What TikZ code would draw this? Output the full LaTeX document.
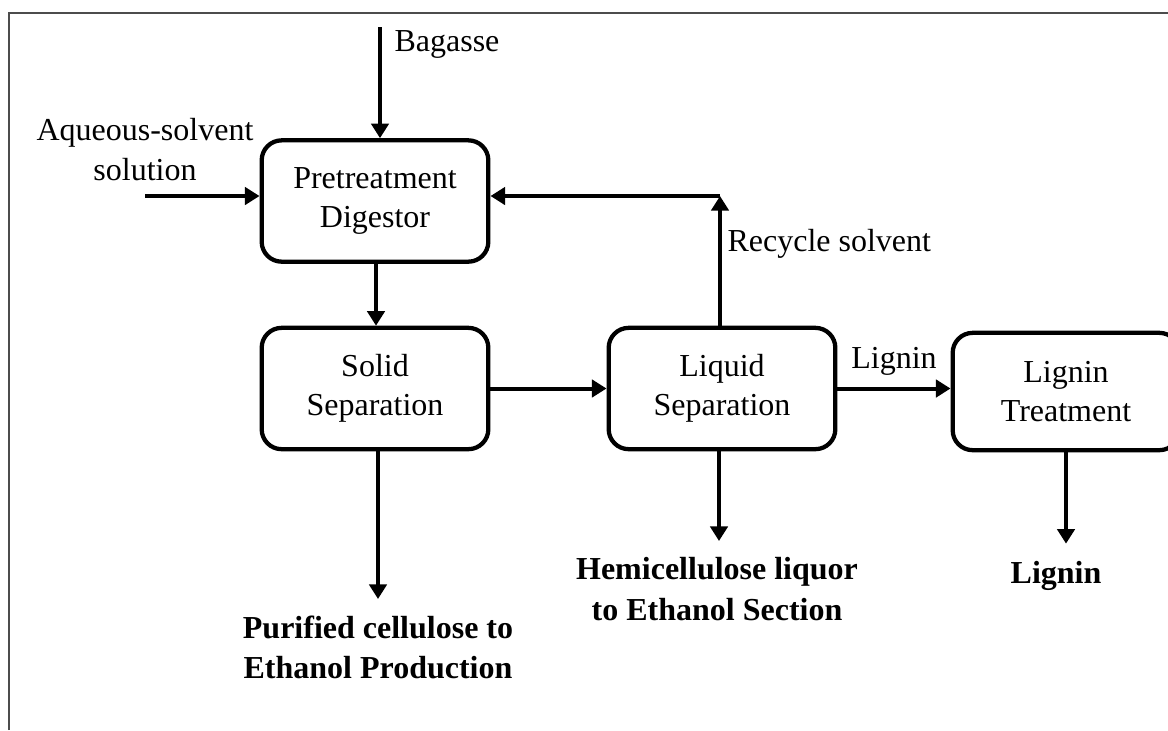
\documentclass[tikz,border=0pt]{standalone}
\usepackage{fontspec}
\setmainfont{Liberation Serif}
\usetikzlibrary{arrows.meta}

\tikzset{
  unit/.style={draw, line width=1.6pt, rounded corners=7.5pt,
    minimum width=85pt, minimum height=45.5pt, align=center,
    inner sep=0pt, font=\fontsize{12}{14.6}\selectfont},
  flow/.style={line width=1.5pt, -{Triangle[width=6.5pt,length=5.5pt]}},
  tag/.style={inner sep=0pt, align=center, font=\fontsize{12}{15}\selectfont},
  outtext/.style={inner sep=0pt, align=center, anchor=north,
    font=\fontsize{12}{15.3}\selectfont\bfseries}
}

\begin{document}
\begin{tikzpicture}[x=0.375pt,y=-0.375pt]
\useasboundingbox (0,0) rectangle (1168,730);
\clip (0,0) rectangle (1168,730);

% frame
\draw[black!70, line width=0.8pt] (9,730) -- (9,13) -- (1168,13);

% units
\node[unit] (pre) at (375,201) {Pretreatment\\Digestor};
\node[unit] (sol) at (375,388.5) {Solid\\Separation};
\node[unit] (liq) at (722,388.5) {Liquid\\Separation};
\node[unit, minimum height=44pt] (lig) at (1066,391.5) {Lignin\\Treatment};

% inputs
\coordinate (bagin) at (380,27);
\coordinate (aqin) at (145,196);
\node[tag, anchor=west] (bag) at (394,44) {Bagasse};
\node[tag] (aq) at (145,150) {Aqueous-solvent\\solution};
\draw[flow] (bagin) -- (bagin |- pre.north);
\draw[flow] (aqin) -- (aqin -| pre.west);

% recycle loop
\coordinate (rc) at (720,196);
\draw[flow] (liq.north -| rc) -- (rc);
\draw[flow] (rc) -- (rc -| pre.east);
\node[tag, anchor=west] (rec) at (727,244) {Recycle solvent};

% main line
\draw[flow] (pre.south -| 376,0) -- (sol.north -| 376,0);
\draw[flow] (sol.east) -- (sol.east -| liq.west);
\draw[flow] (liq.east) -- node[tag, above=4pt] (lgn) {Lignin} (liq.east -| lig.west);

% outputs
\node[outtext] (cell) at (378,615) {Purified cellulose to\\Ethanol Production};
\node[outtext] (hemi) at (717,557) {Hemicellulose liquor\\to Ethanol Section};
\node[outtext] (lout) at (1056,561) {Lignin};

\draw[flow, shorten >=6pt] (sol.south -| cell.north) -- (cell.north);
\draw[flow, shorten >=6pt] (liq.south -| 719,0) -- (hemi.north -| 719,0);
\draw[flow, shorten >=6.5pt] (lig.south) -- (lig.south |- lout.north);
\end{tikzpicture}
\end{document}
